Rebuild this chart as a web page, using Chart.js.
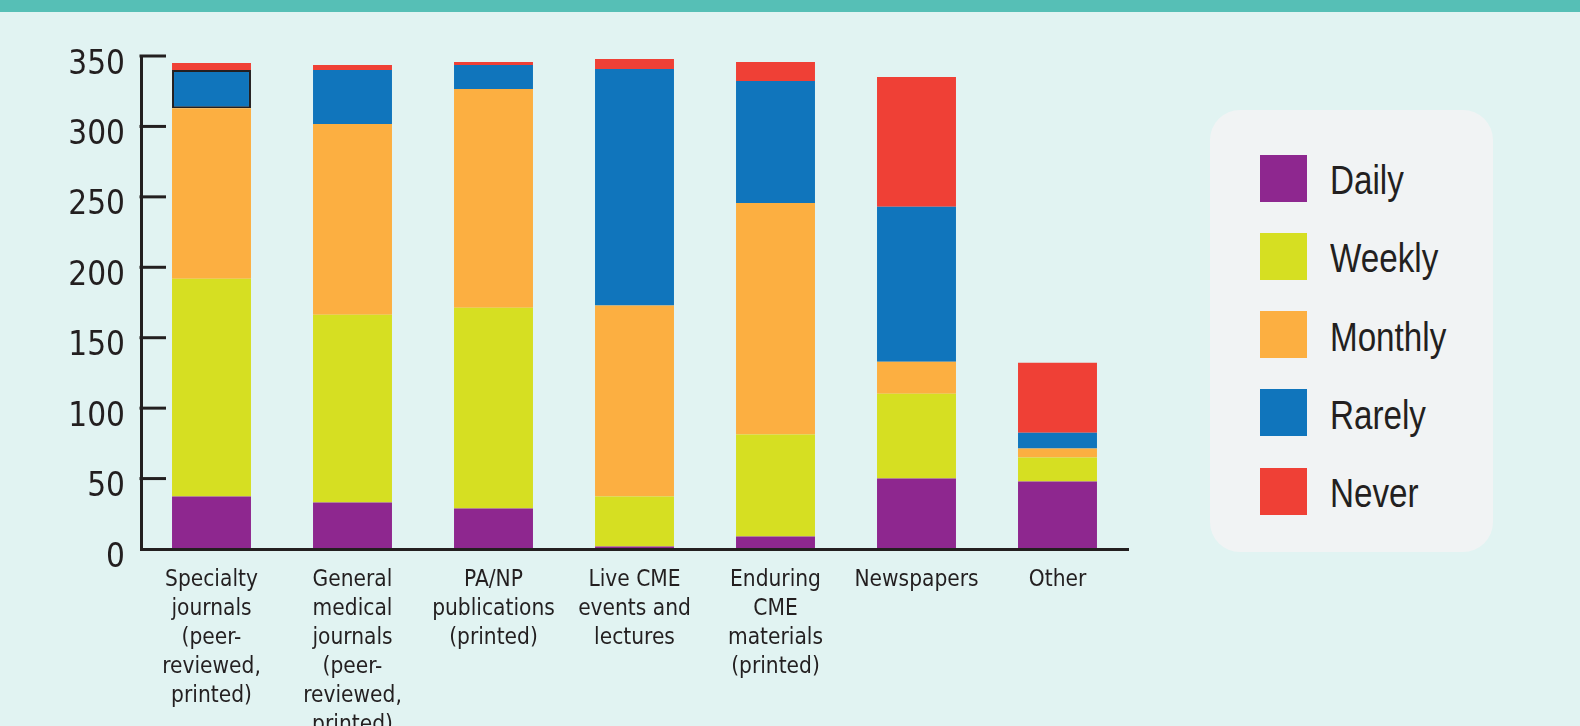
<!DOCTYPE html>
<html>
<head>
<meta charset="utf-8">
<script src="https://cdn.jsdelivr.net/npm/chart.js"></script>
<style>
  html, body { margin: 0; padding: 0; }
  body {
    width: 1580px; height: 726px; overflow: hidden; position: relative;
    background: #E1F3F2;
    font-family: "Liberation Sans", Arial, sans-serif;
  }
  #strip { position: absolute; left: 0; top: 0; width: 1580px; height: 12px; background: #56BFB6; }
  #chart { position: absolute; left: 0; top: 0; }
  #legend {
    position: absolute; left: 1210px; top: 110px; width: 283px; height: 442px;
    box-sizing: border-box; padding-top: 29px;
    background: #F1F3F4; border-radius: 30px;
  }
  .row { display: flex; align-items: center; height: 78.25px; padding-left: 50px; }
  .sw { width: 47px; height: 47px; margin-right: 23px; flex: none; }
  /* узкое начертание: обычный Liberation Sans, сжатый по ширине */
  .lbl {
    display: inline-block; font-size: 40px; line-height: 1; color: #231F20;
    position: relative; top: 2px; transform: scaleX(0.83); transform-origin: left center;
    white-space: nowrap;
  }
</style>
</head>
<body>
<div id="strip"></div>
<canvas id="chart" width="1580" height="726"></canvas>
<div id="legend"></div>
<script>
// Категории и значения
const categories = [
  ["Specialty", "journals", "(peer-", "reviewed,", "printed)"],
  ["General", "medical", "journals", "(peer-", "reviewed,", "printed)"],
  ["PA/NP", "publications", "(printed)"],
  ["Live CME", "events and", "lectures"],
  ["Enduring", "CME", "materials", "(printed)"],
  ["Newspapers"],
  ["Other"]
];
const seriesNames = ["Daily", "Weekly", "Monthly", "Rarely", "Never"];
const seriesColors = ["#8E278F", "#D6DF22", "#FCAF41", "#1075BC", "#EF4036"];

const daily   = [37.2, 33.0, 28.7, 1.8, 8.9, 50.0, 47.9];
const weekly  = [154.6, 133.3, 142.6, 35.4, 72.3, 60.3, 17.0];
const monthly = [121.1, 135.5, 155.3, 135.7, 164.5, 22.7, 6.4];
const rarely  = [27.2, 38.3, 17.0, 167.9, 86.6, 109.9, 11.3];
const never   = [4.9, 3.5, 2.1, 7.1, 13.4, 92.2, 49.7];

const yMin = 0, yMax = 350, yStep = 50;

const ink = "#231F20";
const condensed = '"DejaVu Sans Condensed", "Liberation Sans", sans-serif';

// Засечки оси Y внутрь области графика
const innerTicks = {
  id: "innerTicks",
  afterDatasetsDraw(chart) {
    const y = chart.scales.y;
    const left = chart.chartArea.left;
    const ctx = chart.ctx;
    ctx.save();
    ctx.strokeStyle = ink;
    ctx.lineWidth = 3;
    y.ticks.forEach(t => {
      if (t.value === yMin) return;
      const py = y.getPixelForValue(t.value);
      ctx.beginPath();
      ctx.moveTo(left - 1.5, py);
      ctx.lineTo(left + 25, py);
      ctx.stroke();
    });
    ctx.restore();
  }
};

const allSeries = [daily, weekly, monthly, rarely, never];
const datasets = allSeries.map((data, i) => {
  const ds = {
    label: seriesNames[i],
    data,
    backgroundColor: seriesColors[i],
    borderWidth: 0,
    barPercentage: 0.56,
    categoryPercentage: 1
  };
  if (seriesNames[i] === "Rarely") {
    // у первого столбца синий сегмент обведён рамкой
    ds.borderWidth = data.map((_, j) => j === 0 ? 2 : 0);
    ds.borderColor = ink;
    ds.borderSkipped = false;
  }
  return ds;
});

const chart = new Chart(document.getElementById("chart"), {
  type: "bar",
  data: { labels: categories, datasets },
  options: {
    responsive: false,
    animation: false,
    events: [],
    layout: { padding: { left: 0, right: 452, top: 56, bottom: 0 } },
    plugins: {
      legend: { display: false },
      tooltip: { enabled: false }
    },
    scales: {
      x: {
        stacked: true,
        grid: { display: false, drawTicks: false },
        border: { display: true, color: ink, width: 3, z: 1 },
        ticks: {
          color: ink,
          padding: 17,
          maxRotation: 0,
          autoSkip: false,
          font: { family: condensed, size: 22.5, lineHeight: "29px" }
        },
        afterFit: s => { s.height = 177; }
      },
      y: {
        stacked: true,
        min: yMin,
        max: yMax,
        grid: { display: false, drawTicks: false },
        border: { display: true, color: ink, width: 3 },
        ticks: {
          stepSize: yStep,
          color: ink,
          padding: 16,
          labelOffset: 9,
          font: { family: condensed, size: 33 }
        },
        afterFit: s => { s.width = 141; }
      }
    }
  },
  plugins: [innerTicks]
});

// HTML-легенда из наборов данных графика
const legendEl = document.getElementById("legend");
chart.data.datasets.forEach(ds => {
  const row = document.createElement("div");
  row.className = "row";
  row.innerHTML = `<div class="sw" style="background:${ds.backgroundColor}"></div><div class="lbl">${ds.label}</div>`;
  legendEl.appendChild(row);
});
</script>
</body>
</html>
